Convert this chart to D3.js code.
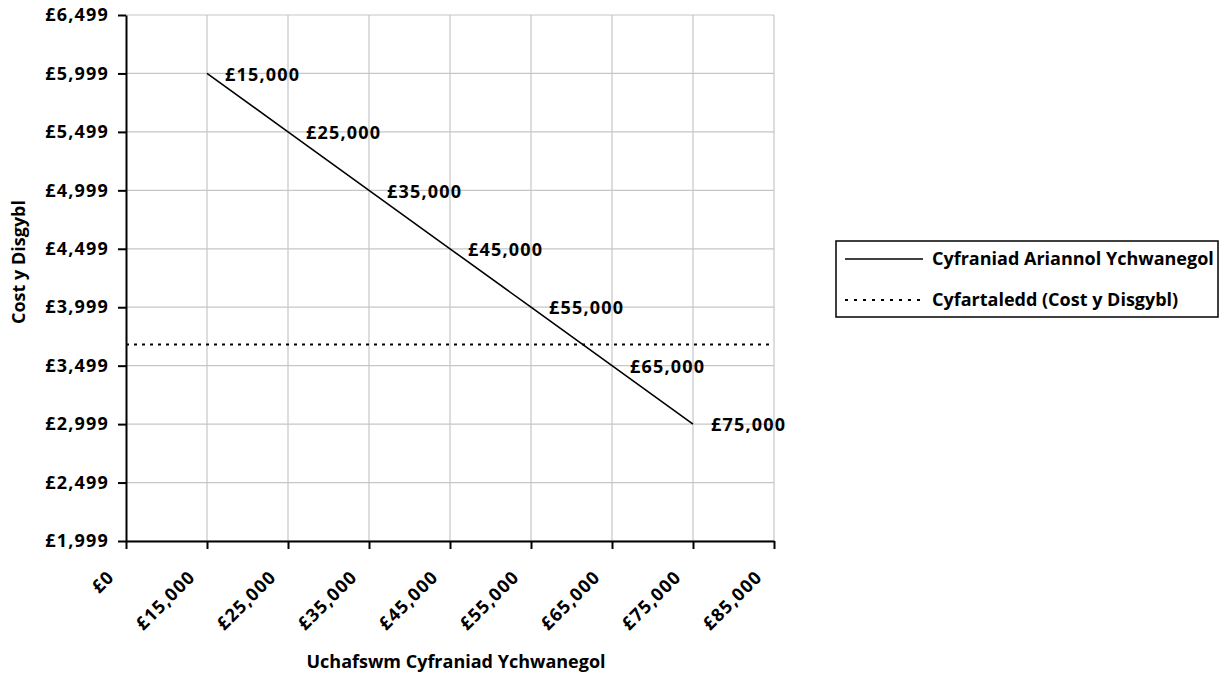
<!DOCTYPE html>
<html>
<head>
<meta charset="utf-8">
<script src="https://cdn.jsdelivr.net/npm/d3@7"></script>
<style>
  body { margin: 0; background: #fff; }
  svg { display: block; font-family: "Open Sans", "Noto Sans", sans-serif; font-weight: bold; }
</style>
</head>
<body>
<svg id="chart" width="1227" height="677"></svg>
<script>
// categories on the x axis (maximum extra contribution)
const categories = ["£0", "£15,000", "£25,000", "£35,000", "£45,000", "£55,000", "£65,000", "£75,000", "£85,000"];
// cost per pupil for each category (no value at the two ends)
const contributionValues = [null, 5999, 5499, 4999, 4499, 3999, 3499, 2999, null];
// average cost per pupil, flat across all categories
const averageValues = [3680, 3680, 3680, 3680, 3680, 3680, 3680, 3680, 3680];
const yTickValues = [1999, 2499, 2999, 3499, 3999, 4499, 4999, 5499, 5999, 6499];

const seriesNames = ["Cyfraniad Ariannol Ychwanegol", "Cyfartaledd (Cost y Disgybl)"];
const xTitle = "Uchafswm Cyfraniad Ychwanegol";
const yTitle = "Cost y Disgybl";

const svg = d3.select("#chart");
const margin = { top: 15, right: 453, bottom: 136, left: 126 };
const width = 1227 - margin.left - margin.right;
const height = 677 - margin.top - margin.bottom;
const fontSize = 18;
const numSpacing = "1.2px";

const x = d3.scalePoint().domain(categories).range([0, width]).padding(0);
const y = d3.scaleLinear().domain([1999, 6499]).range([height, 0]);

const money = (d) => "£" + d3.format(",")(d);

const g = svg.append("g").attr("transform", `translate(${margin.left},${margin.top})`);

// gridlines
g.append("g")
  .selectAll("line.hgrid")
  .data(yTickValues)
  .join("line")
  .attr("x1", 0)
  .attr("x2", width)
  .attr("y1", (d) => y(d))
  .attr("y2", (d) => y(d))
  .attr("stroke", "#c6c6c6")
  .attr("stroke-width", 1.2);

g.append("g")
  .selectAll("line.vgrid")
  .data(categories.slice(1))
  .join("line")
  .attr("x1", (d) => x(d))
  .attr("x2", (d) => x(d))
  .attr("y1", 0)
  .attr("y2", height)
  .attr("stroke", "#c6c6c6")
  .attr("stroke-width", 1.2);

// y axis
const yAxis = g.append("g")
  .call(d3.axisLeft(y).tickValues(yTickValues).tickFormat(money).tickSize(8).tickPadding(9).tickSizeOuter(0));
yAxis.select(".domain").attr("stroke", "#000").attr("stroke-width", 2);
yAxis.selectAll(".tick line").attr("stroke", "#000").attr("stroke-width", 2);
yAxis.selectAll(".tick text")
  .attr("font-size", fontSize)
  .attr("font-family", "Open Sans")
  .attr("font-weight", "bold")
  .attr("letter-spacing", numSpacing)
  .attr("fill", "#000");

// x axis
const xAxis = g.append("g")
  .attr("transform", `translate(0,${height})`)
  .call(d3.axisBottom(x).tickSize(8).tickSizeOuter(0));
xAxis.select(".domain").attr("stroke", "#000").attr("stroke-width", 2);
xAxis.selectAll(".tick line").attr("stroke", "#000").attr("stroke-width", 2);
xAxis.selectAll(".tick text")
  .attr("font-size", fontSize)
  .attr("font-family", "Open Sans")
  .attr("font-weight", "bold")
  .attr("letter-spacing", numSpacing)
  .attr("fill", "#000")
  .attr("text-anchor", "end")
  .attr("dy", 0)
  .attr("y", 0)
  .attr("transform", "translate(-11,37) rotate(-45)");

// average (dotted)
const avgLine = d3.line()
  .x((d, i) => x(categories[i]))
  .y((d) => y(d));
g.append("path")
  .datum(averageValues)
  .attr("fill", "none")
  .attr("stroke", "#000")
  .attr("stroke-width", 2)
  .attr("stroke-dasharray", "3,5")
  .attr("d", avgLine);

// contribution line
const mainLine = d3.line()
  .defined((d) => d != null)
  .x((d, i) => x(categories[i]))
  .y((d) => y(d));
g.append("path")
  .datum(contributionValues)
  .attr("fill", "none")
  .attr("stroke", "#000")
  .attr("stroke-width", 1.6)
  .attr("d", mainLine);

// data labels: category names to the right of each point
g.append("g")
  .selectAll("text")
  .data(contributionValues.map((v, i) => ({ v, c: categories[i] })).filter((d) => d.v != null))
  .join("text")
  .attr("x", (d) => x(d.c) + 18)
  .attr("y", (d) => y(d.v))
  .attr("dy", "0.4em")
  .attr("font-size", fontSize)
  .attr("letter-spacing", numSpacing)
  .attr("fill", "#000")
  .text((d) => d.c);

// axis titles
svg.append("text")
  .attr("x", 456)
  .attr("y", 668)
  .attr("text-anchor", "middle")
  .attr("font-size", 18)
  .text(xTitle);

svg.append("text")
  .attr("transform", "translate(25,262) rotate(-90)")
  .attr("text-anchor", "middle")
  .attr("font-size", 18)
  .text(yTitle);

// legend
const legend = svg.append("g").attr("transform", "translate(836,241)");
legend.append("rect")
  .attr("width", 382)
  .attr("height", 76)
  .attr("fill", "#fff")
  .attr("stroke", "#000")
  .attr("stroke-width", 1.5);

const legendItems = legend.selectAll("g.item")
  .data(seriesNames)
  .join("g")
  .attr("transform", (d, i) => `translate(0,${18 + i * 41})`);

legendItems.append("line")
  .attr("x1", 9)
  .attr("x2", 87)
  .attr("stroke", "#000")
  .attr("stroke-width", (d, i) => (i === 0 ? 1.6 : 2))
  .attr("stroke-dasharray", (d, i) => (i === 0 ? null : "3,6"));

legendItems.append("text")
  .attr("x", 96)
  .attr("dy", "0.35em")
  .attr("font-size", 18)
  .text((d) => d);
</script>
</body>
</html>
